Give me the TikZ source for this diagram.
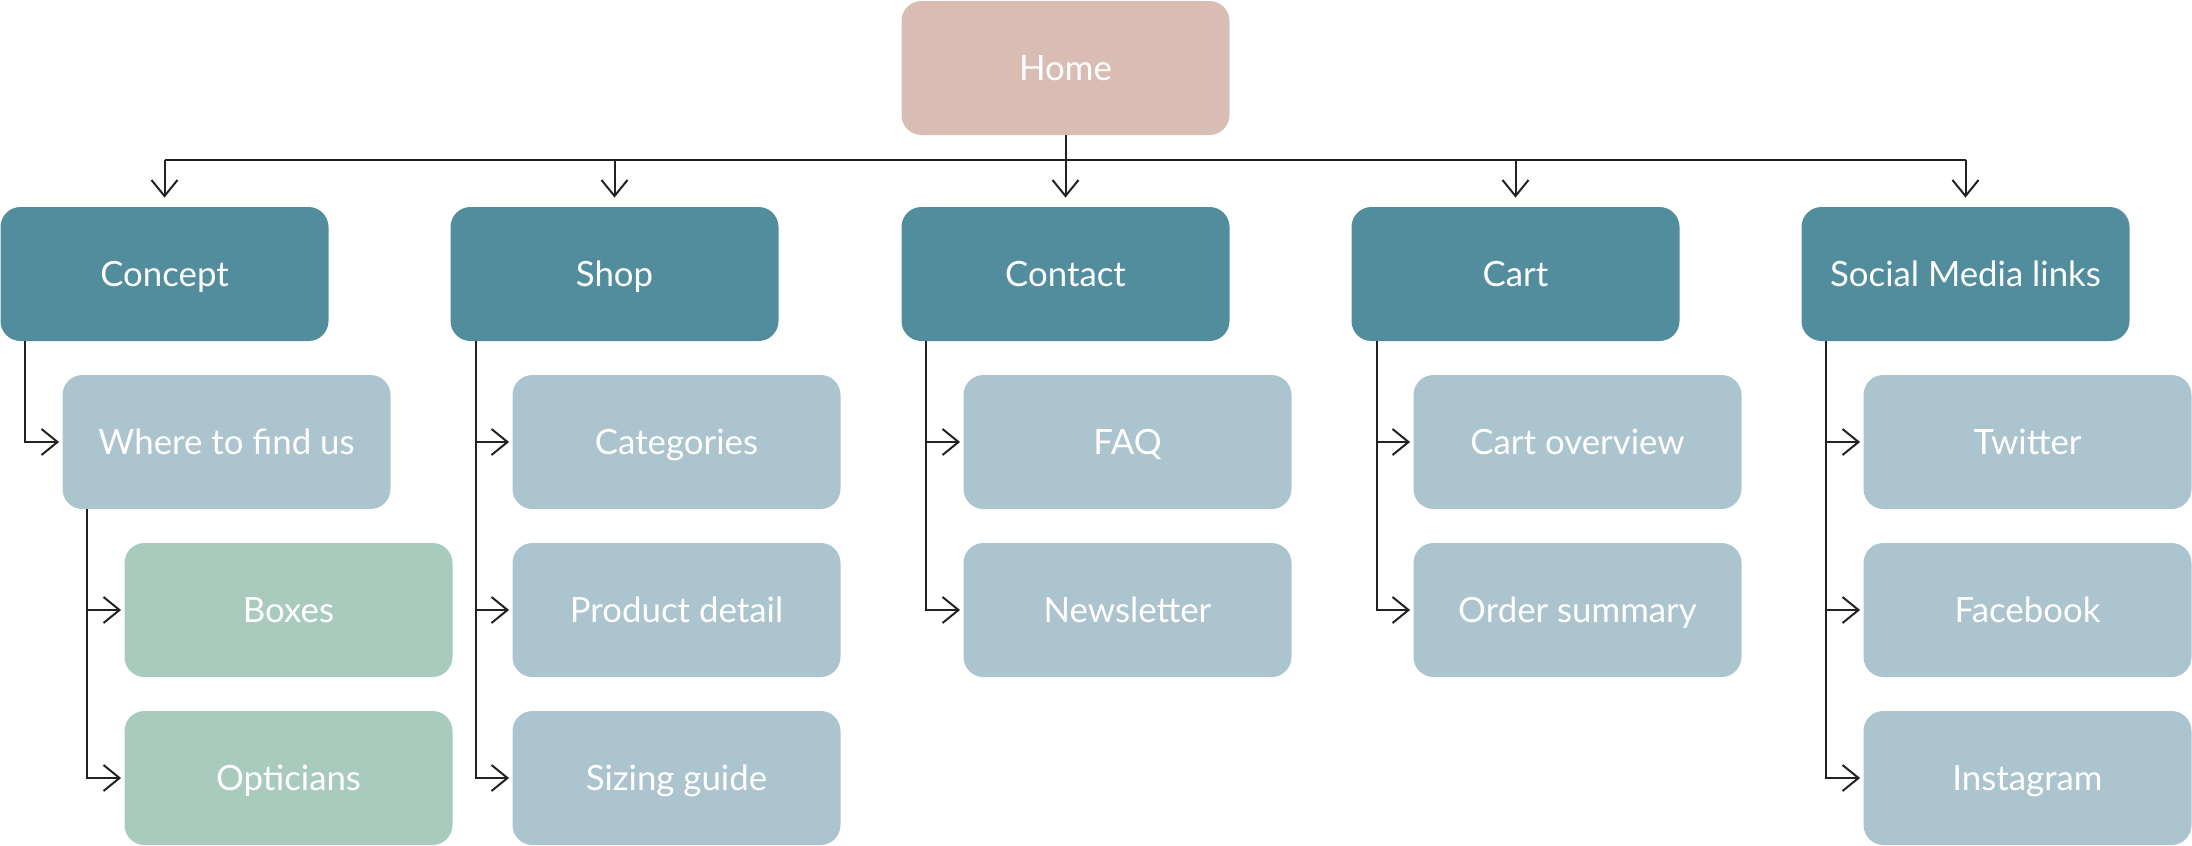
\documentclass[tikz,border=0pt]{standalone}
\usepackage{fontspec}
\setmainfont{Lato}
\usetikzlibrary{arrows.meta}

\definecolor{homecol}{HTML}{D9BDB5}
\definecolor{maincol}{HTML}{518D9C}
\definecolor{subcol}{HTML}{ACC4CD}
\definecolor{leafcol}{HTML}{A9CBBD}
\definecolor{linecol}{HTML}{222222}

\begin{document}
\begin{tikzpicture}[x=0.5pt, y=-0.5pt, font=\fontsize{17.4}{21}\selectfont,
  box/.style={rectangle, rounded corners=10pt, minimum width=164pt, minimum height=67pt, inner sep=0pt,
    text height=12.5pt, text depth=0pt, text=white},
  home/.style={box, fill=homecol},
  main/.style={box, fill=maincol},
  sub/.style={box, fill=subcol},
  leaf/.style={box, fill=leafcol},
  link/.style={draw=linecol, line width=1pt},
  arr/.style={link, -{Straight Barb[length=8pt, width=13pt]}}]

\useasboundingbox (0,0) rectangle (2192,846);

\node [home] (home) at (1065.5,68) {Home};

\node [main] (concept) at (164.5,274) {Concept};
\node [main] (shop) at (614.5,274) {Shop};
\node [main] (contact) at (1065.5,274) {Contact};
\node [main] (cart) at (1515.5,274) {Cart};
\node [main] (social) at (1965.5,274) {Social Media links};

\node [sub] (where) at (226.5,442) {Where to find us};
\node [leaf] (boxes) at (288.5,610) {Boxes};
\node [leaf] (opticians) at (288.5,778) {Opticians};

\node [sub] (categories) at (676.5,442) {Categories};
\node [sub] (product) at (676.5,610) {Product detail};
\node [sub] (sizing) at (676.5,778) {Sizing guide};

\node [sub] (faq) at (1127.5,442) {FAQ};
\node [sub] (newsletter) at (1127.5,610) {Newsletter};

\node [sub] (overview) at (1577.5,442) {Cart overview};
\node [sub] (summary) at (1577.5,610) {Order summary};

\node [sub] (twitter) at (2027.5,442) {Twitter};
\node [sub] (facebook) at (2027.5,610) {Facebook};
\node [sub] (instagram) at (2027.5,778) {Instagram};

% bus below home
\coordinate (bus) at (1065.5,160);
\draw [link] (home.south) -- (bus);
\draw [link] (concept |- bus) -- (social |- bus);
\draw [arr, shorten >=4.5pt] (concept |- bus) -- (concept.north);
\draw [arr, shorten >=4.5pt] (shop |- bus) -- (shop.north);
\draw [arr, shorten >=4.5pt] (contact |- bus) -- (contact.north);
\draw [arr, shorten >=4.5pt] (cart |- bus) -- (cart.north);
\draw [arr, shorten >=4.5pt] (social |- bus) -- (social.north);

% sub pages
\draw [arr, shorten >=1.5pt] ([xshift=12.5pt]concept.south west) |- (where.west);
\draw [arr, shorten >=1.5pt] ([xshift=12.5pt]where.south west) |- (boxes.west);
\draw [arr, shorten >=1.5pt] ([xshift=12.5pt]where.south west) |- (opticians.west);

\draw [arr, shorten >=1.5pt] ([xshift=13pt]shop.south west) |- (categories.west);
\draw [arr, shorten >=1.5pt] ([xshift=13pt]shop.south west) |- (product.west);
\draw [arr, shorten >=1.5pt] ([xshift=13pt]shop.south west) |- (sizing.west);

\draw [arr, shorten >=1.5pt] ([xshift=12.5pt]contact.south west) |- (faq.west);
\draw [arr, shorten >=1.5pt] ([xshift=12.5pt]contact.south west) |- (newsletter.west);

\draw [arr, shorten >=1.5pt] ([xshift=13pt]cart.south west) |- (overview.west);
\draw [arr, shorten >=1.5pt] ([xshift=13pt]cart.south west) |- (summary.west);

\draw [arr, shorten >=1.5pt] ([xshift=12.5pt]social.south west) |- (twitter.west);
\draw [arr, shorten >=1.5pt] ([xshift=12.5pt]social.south west) |- (facebook.west);
\draw [arr, shorten >=1.5pt] ([xshift=12.5pt]social.south west) |- (instagram.west);

\end{tikzpicture}
\end{document}
